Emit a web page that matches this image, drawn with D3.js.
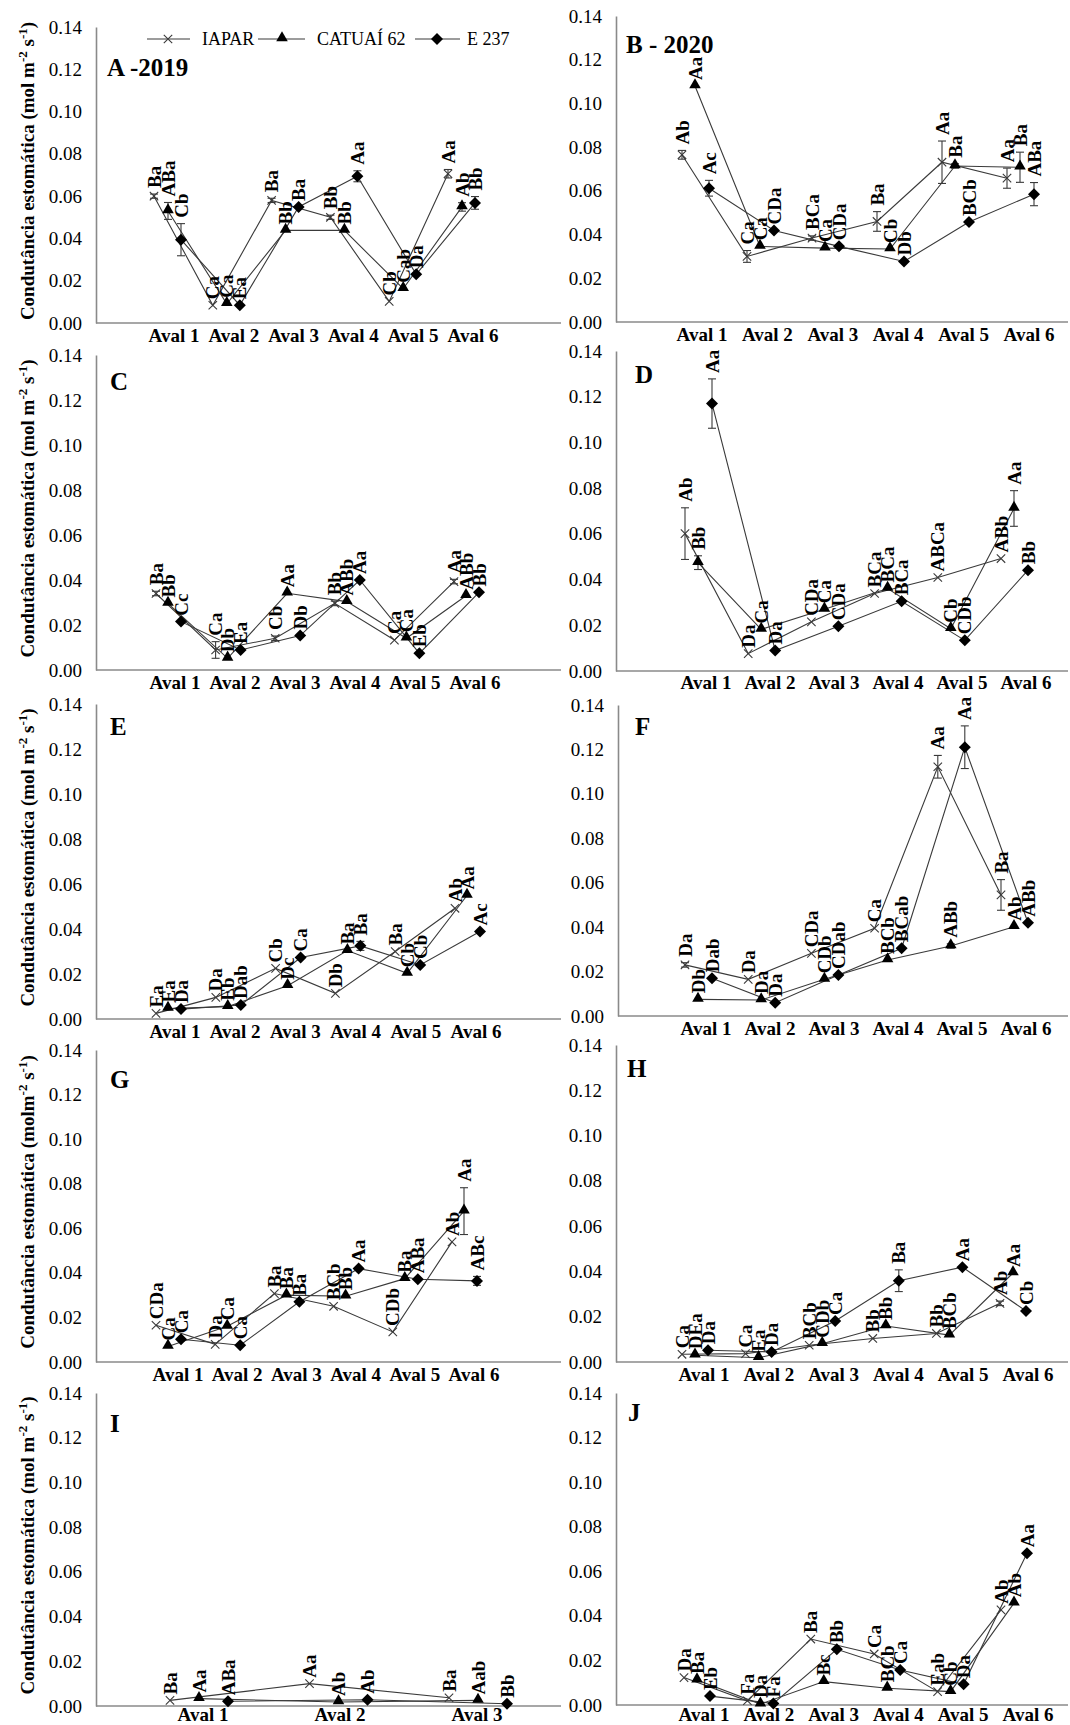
<!DOCTYPE html>
<html>
<head>
<meta charset="utf-8">
<title>Condutância estomática</title>
<script src="https://d3js.org/d3.v7.min.js"></script>
<style>
  body { margin: 0; background: #fff; }
  svg text { font-family: "Liberation Serif", "Times New Roman", serif; fill: #000; }
</style>
</head>
<body>
<svg id="chart"></svg>
<script>
// categories
const avals6 = ["Aval 1", "Aval 2", "Aval 3", "Aval 4", "Aval 5", "Aval 6"];
const avals3 = ["Aval 1", "Aval 2", "Aval 3"];
const seriesNames = ["IAPAR", "CATUAÍ 62", "E 237"];
const yTicks = [0, 0.02, 0.04, 0.06, 0.08, 0.10, 0.12, 0.14];

// means per panel: [IAPAR, CATUAÍ 62, E 237]
const meansA = [[0.060, 0.0084, 0.058, 0.050, 0.0102, 0.0706],
                [0.053, 0.0091, 0.0438, 0.0438, 0.0162, 0.0549],
                [0.0394, 0.0084, 0.0549, 0.0694, 0.023, 0.0568]];
const meansB = [[0.0765, 0.030, 0.0384, 0.046, 0.0731, 0.0658],
                [0.108, 0.0346, 0.0338, 0.0334, 0.0714, 0.0708],
                [0.0612, 0.0419, 0.0346, 0.0277, 0.0457, 0.0585]];
const meansC = [[0.034, 0.0089, 0.0141, 0.0296, 0.0133, 0.0393],
                [0.0296, 0.0052, 0.0341, 0.0304, 0.0141, 0.033],
                [0.0215, 0.0089, 0.0153, 0.040, 0.0074, 0.0345]];
const meansD = [[0.0601, 0.0076, 0.0215, 0.0339, 0.0409, 0.0492],
                [0.0474, 0.0182, 0.027, 0.0361, 0.0185, 0.0711],
                [0.117, 0.009, 0.0196, 0.0305, 0.0134, 0.0441]];
const meansE = [[0.0025, 0.0096, 0.0225, 0.0114, 0.030, 0.0492],
                [0.0047, 0.0055, 0.0148, 0.0304, 0.0203, 0.0549],
                [0.0044, 0.0062, 0.0273, 0.0325, 0.024, 0.0389]];
const meansF = [[0.023, 0.0165, 0.0282, 0.0395, 0.1122, 0.0545],
                [0.0075, 0.0072, 0.0165, 0.0252, 0.0315, 0.0402],
                [0.017, 0.006, 0.0185, 0.0305, 0.121, 0.042]];
const meansG = [[0.0165, 0.0079, 0.0307, 0.025, 0.0135, 0.0539],
                [0.007, 0.016, 0.030, 0.0295, 0.0374, 0.0677],
                [0.0102, 0.0075, 0.027, 0.0419, 0.0371, 0.0364]];
const meansH = [[0.0034, 0.0037, 0.0074, 0.0104, 0.0126, 0.0259],
                [0.003, 0.0019, 0.0081, 0.0159, 0.0119, 0.0393],
                [0.0052, 0.0044, 0.0181, 0.0359, 0.0419, 0.0225]];
const meansI = [[0.0025, 0.010, 0.0037],
                [0.0033, 0.0018, 0.0025],
                [0.0021, 0.0028, 0.001]];
const meansJ = [[0.0123, 0.0019, 0.0296, 0.0229, 0.006, 0.0427],
                [0.0112, 0.0004, 0.0105, 0.0075, 0.006, 0.0457],
                [0.004, 0.0007, 0.025, 0.0157, 0.0093, 0.0681]];

// standard errors (0 = hidden behind marker)
const errA = [[0.001, 0, 0.001, 0.001, 0, 0.002], [0.004, 0, 0, 0, 0, 0.002], [0.0076, 0, 0, 0.0026, 0, 0.003]];
const errB = [[0.002, 0.0027, 0.001, 0.0045, 0.0097, 0.0046], [0, 0, 0, 0, 0.001, 0.0069], [0.0036, 0, 0, 0, 0, 0.0053]];
const errC = [[0.001, 0.0037, 0.001, 0.001, 0, 0.001], [0, 0, 0, 0, 0, 0], [0, 0, 0, 0, 0, 0]];
const errD = [[0.0113, 0, 0, 0, 0, 0], [0.003, 0, 0, 0, 0, 0.0078], [0.0108, 0, 0, 0, 0, 0]];
const errE = [[0, 0, 0, 0, 0, 0], [0, 0, 0, 0, 0, 0], [0, 0, 0, 0.002, 0, 0]];
const errF = [[0.001, 0, 0, 0, 0.0051, 0.0069], [0, 0, 0, 0, 0.001, 0], [0, 0, 0, 0, 0.0096, 0]];
const errG = [[0, 0, 0, 0, 0, 0], [0, 0, 0, 0, 0, 0.0105], [0, 0, 0, 0, 0, 0.002]];
const errH = [[0, 0, 0, 0, 0, 0.001], [0, 0, 0, 0, 0, 0], [0, 0, 0, 0.0048, 0, 0]];
const errI = [[0, 0, 0], [0, 0, 0], [0, 0, 0]];
const errJ = [[0, 0, 0, 0, 0, 0], [0, 0, 0, 0, 0, 0], [0, 0, 0, 0, 0, 0]];

// mean comparison letters
const lettersA = [["Ba", "Ca", "Ba", "Bb", "Cb", "Aa"], ["ABa", "Ca", "Bb", "Bb", "Cab", "Ab"], ["Cb", "Ea", "Ba", "Aa", "Da", "Bb"]];
const lettersB = [["Ab", "Ca", "BCa", "Ba", "Aa", "Aa"], ["Aa", "Ca", "Ca", "Cb", "Ba", "Ba"], ["Ac", "CDa", "CDa", "Db", "BCb", "ABa"]];
const lettersC = [["Ba", "Ca", "Cb", "Bb", "Ca", "Aa"], ["Bb", "Db", "Aa", "ABb", "Ca", "ABb"], ["Cc", "Ea", "Db", "Aa", "Eb", "Bb"]];
const lettersD = [["Ab", "Da", "CDa", "BCa", "ABCa", "ABb"], ["Bb", "Ca", "Ca", "BCa", "Cb", "Aa"], ["Aa", "Da", "CDa", "BCa", "CDb", "Bb"]];
const lettersE = [["Ea", "Da", "Cb", "Db", "Ba", "Ab"], ["Ea", "Eb", "Dc", "Ba", "Cb", "Aa"], ["Da", "Dab", "Ca", "Ba", "Cb", "Ac"]];
const lettersF = [["Da", "Da", "CDa", "Ca", "Aa", "Ba"], ["Db", "Da", "CDb", "BCb", "ABb", "Ab"], ["Dab", "Da", "CDab", "BCab", "Aa", "ABb"]];
const lettersG = [["CDa", "Da", "Ba", "BCb", "CDb", "Ab"], ["Ca", "Ca", "Ba", "Bb", "Ba", "Aa"], ["Ca", "Ca", "Ba", "Aa", "ABa", "ABc"]];
const lettersH = [["Ca", "Ca", "BCb", "Bb", "Bb", "Ab"], ["DEa", "Ea", "CDb", "Bb", "BCb", "Aa"], ["Da", "Da", "Ca", "Ba", "Aa", "Cb"]];
const lettersI = [["Ba", "Aa", "Ba"], ["Aa", "Ab", "Aab"], ["ABa", "Ab", "Bb"]];
const lettersJ = [["Da", "Fa", "Ba", "Ca", "Eab", "Ab"], ["Ba", "Da", "Bc", "BCb", "Cb", "Ab"], ["Eb", "Fa", "Bb", "Ca", "Da", "Aa"]];

const panelTitles = ["A -2019", "B - 2020", "C", "D", "E", "F", "G", "H", "I", "J"];

// panel frames (pixels)
const layout = [
  {left: 96,  right: 561,  top: 27,   bottom: 323,  pts: [168, 462], labs: [174, 473], off: [-14, 0, 13], tx: 107, ty: 76,   labDy: 19, yTitle: true},
  {left: 616, right: 1068, top: 16,   bottom: 322,  pts: [695, 1020], labs: [702, 1029], off: [-13, 0, 14], tx: 626, ty: 53, labDy: 19},
  {left: 96,  right: 561,  top: 355,  bottom: 670,  pts: [168, 466], labs: [175, 475], off: [-12, 0, 13], tx: 110, ty: 390,  labDy: 19, yTitle: true},
  {left: 616, right: 1068, top: 351,  bottom: 671,  pts: [698, 1014], labs: [706, 1026], off: [-13, 0, 14], tx: 635, ty: 383, labDy: 18},
  {left: 96,  right: 561,  top: 704,  bottom: 1019, pts: [168, 467], labs: [175, 476], off: [-12, 0, 13], tx: 110, ty: 735,  labDy: 19, yTitle: true},
  {left: 618, right: 1068, top: 705,  bottom: 1016, pts: [698, 1014], labs: [706, 1026], off: [-13, 0, 14], tx: 635, ty: 735, labDy: 19},
  {left: 96,  right: 561,  top: 1050, bottom: 1362, pts: [168, 464], labs: [178, 474], off: [-12, 0, 13], tx: 110, ty: 1088, labDy: 19, yTitle: true, molm: true},
  {left: 616, right: 1068, top: 1045, bottom: 1362, pts: [695, 1013], labs: [704, 1028], off: [-13, 0, 13], tx: 627, ty: 1077, labDy: 19},
  {left: 96,  right: 561,  top: 1393, bottom: 1706, pts: [199, 478], labs: [203, 477], off: [-29, 0, 29], tx: 110, ty: 1432, labDy: 15, yTitle: true},
  {left: 616, right: 1068, top: 1393, bottom: 1705, pts: [697, 1014], labs: [704, 1028], off: [-13, 0, 13], tx: 628, ty: 1421, labDy: 16}
];

const panels = [
  {cats: avals6, means: meansA, errs: errA, letters: lettersA},
  {cats: avals6, means: meansB, errs: errB, letters: lettersB},
  {cats: avals6, means: meansC, errs: errC, letters: lettersC},
  {cats: avals6, means: meansD, errs: errD, letters: lettersD},
  {cats: avals6, means: meansE, errs: errE, letters: lettersE},
  {cats: avals6, means: meansF, errs: errF, letters: lettersF},
  {cats: avals6, means: meansG, errs: errG, letters: lettersG},
  {cats: avals6, means: meansH, errs: errH, letters: lettersH},
  {cats: avals3, means: meansI, errs: errI, letters: lettersI},
  {cats: avals6, means: meansJ, errs: errJ, letters: lettersJ}
];

const AXIS = '#8a8a8a';
const LINE = '#3a3a3a';

const svg = d3.select('#chart').attr('width', 1070).attr('height', 1725);

// marker shapes, one per series
const markers = [
  d3.symbol().type(d3.symbolTimes).size(48),
  d3.symbol().type(d3.symbolTriangle).size(58),
  d3.symbol().type(d3.symbolSquare).size(72)
];
function drawMarker(g, s, x, y) {
  const m = g.append('path').attr('d', markers[s]());
  if (s === 0) {
    m.attr('fill', 'none').attr('stroke', LINE).attr('stroke-width', 1.1)
      .attr('transform', `translate(${x},${y})`);
  } else if (s === 1) {
    m.attr('fill', '#000').attr('transform', `translate(${x},${y - 1})`);
  } else {
    m.attr('fill', '#000').attr('transform', `translate(${x},${y}) rotate(45)`);
  }
}

function drawPanel(p, L, idx) {
  const g = svg.append('g');
  const y = d3.scaleLinear().domain([0, 0.14]).range([L.bottom, L.top]);
  const xPts = d3.scalePoint().domain(p.cats).range(L.pts);
  const xLab = d3.scalePoint().domain(p.cats).range(L.labs);

  // y axis
  const yAxis = d3.axisLeft(y).tickValues(yTicks).tickFormat(d3.format('.2f'))
    .tickSize(0).tickPadding(14);
  const ya = g.append('g').attr('transform', `translate(${L.left},0)`).call(yAxis);
  ya.select('.domain').attr('stroke', AXIS).attr('stroke-width', 1.6);
  ya.selectAll('text').attr('font-size', 19).attr('fill', '#111')
    .style('font-family', '"Liberation Serif", serif');

  // x axis line and labels
  g.append('line').attr('x1', L.left).attr('x2', L.right)
    .attr('y1', L.bottom).attr('y2', L.bottom)
    .attr('stroke', AXIS).attr('stroke-width', 1.6);
  g.selectAll('.xl').data(p.cats).enter().append('text')
    .attr('x', d => xLab(d)).attr('y', L.bottom + L.labDy)
    .attr('text-anchor', 'middle').attr('font-size', 19).attr('font-weight', 'bold')
    .text(d => d);

  // panel title
  g.append('text').attr('x', L.tx).attr('y', L.ty)
    .attr('font-size', 25).attr('font-weight', 'bold').text(panelTitles[idx]);

  // y title
  if (L.yTitle) {
    const cy = (L.top + L.bottom) / 2 - 4;
    const t = g.append('text').attr('transform', `translate(27,${cy}) rotate(-90)`)
      .attr('text-anchor', 'middle').attr('dy', '0.35em')
      .attr('font-size', 19).attr('font-weight', 'bold');
    t.append('tspan').text(L.molm ? 'Condutância estomática (molm' : 'Condutância estomática (mol m');
    t.append('tspan').attr('dy', -7).attr('font-size', 13).text('-2');
    t.append('tspan').attr('dy', 7).text(' s');
    t.append('tspan').attr('dy', -7).attr('font-size', 13).text('-1');
    t.append('tspan').attr('dy', 7).text(')');
  }

  const line = d3.line();
  p.means.forEach((vals, s) => {
    const pts = vals.map((v, i) => [xPts(p.cats[i]) + L.off[s], y(v)]);
    g.append('path').attr('d', line(pts)).attr('fill', 'none')
      .attr('stroke', LINE).attr('stroke-width', 1.1);
  });

  p.means.forEach((vals, s) => {
    vals.forEach((v, i) => {
      const x = xPts(p.cats[i]) + L.off[s];
      const e = p.errs[s][i];
      if (e > 0) {
        const y1 = y(v - e), y2 = y(v + e);
        g.append('line').attr('x1', x).attr('x2', x).attr('y1', y1).attr('y2', y2)
          .attr('stroke', LINE).attr('stroke-width', 1.1);
        [y1, y2].forEach(yy => g.append('line').attr('x1', x - 4).attr('x2', x + 4)
          .attr('y1', yy).attr('y2', yy).attr('stroke', LINE).attr('stroke-width', 1.1));
      }
      drawMarker(g, s, x, y(v));
      // letters, rotated, above the point (or its error bar)
      g.append('text')
        .attr('transform', `translate(${x},${y(v + e) - 6}) rotate(-90)`)
        .attr('dy', '0.35em').attr('font-size', 19).attr('font-weight', 'bold')
        .text(p.letters[s][i]);
    });
  });
}

panels.forEach((p, i) => drawPanel(p, layout[i], i));

// legend (panel A)
const leg = svg.append('g');
const legItems = [
  {x1: 147, x2: 190, mx: 168, tx: 202},
  {x1: 258, x2: 305, mx: 282, tx: 317},
  {x1: 415, x2: 460, mx: 437, tx: 467}
];
seriesNames.forEach((name, s) => {
  const it = legItems[s];
  leg.append('line').attr('x1', it.x1).attr('x2', it.x2).attr('y1', 39).attr('y2', 39)
    .attr('stroke', LINE).attr('stroke-width', 1.1);
  drawMarker(leg, s, it.mx, 39);
  leg.append('text').attr('x', it.tx).attr('y', 45).attr('font-size', 18).text(name);
});
</script>
</body>
</html>
